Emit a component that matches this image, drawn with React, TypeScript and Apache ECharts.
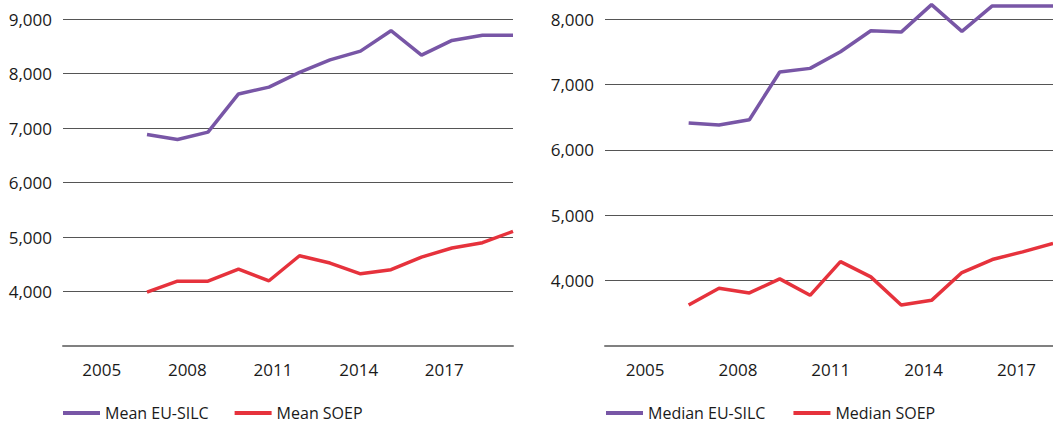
import React, { useEffect, useRef } from "react";
import * as echarts from "echarts";

const years = [2007, 2008, 2009, 2010, 2011, 2012, 2013, 2014, 2015, 2016, 2017, 2018, 2019];
const tickYears = [2005, 2008, 2011, 2014, 2017];

const meanEuSilc = [6880, 6790, 6925, 7625, 7750, 8020, 8250, 8410, 8785, 8338, 8607, 8700, 8700];
const meanSoep = [3990, 4190, 4190, 4410, 4197, 4656, 4522, 4325, 4400, 4632, 4798, 4895, 5103];
const medianEuSilc = [6410, 6380, 6460, 7190, 7245, 7500, 7820, 7800, 8220, 7810, 8200, 8200, 8200];
const medianSoep = [3628, 3882, 3812, 4026, 3775, 4291, 4057, 3628, 3698, 4123, 4322, 4440, 4570];

const PURPLE = "#7856A6";
const RED = "#E6323C";
const FONT = "Open Sans";

const pairs = (vals: number[]) => years.map((y, i) => [y, vals[i]]);
const fmt = (v: number) => (v === 3000 ? "" : String(v).replace(/\B(?=(\d{3})+(?!\d))/g, ","));

export default function App() {
  const ref = useRef<HTMLDivElement>(null);
  useEffect(() => {
    const chart = echarts.init(ref.current!, undefined, { renderer: "svg" });
    const yAxisBase = (grid: number, max: number) => ({
      type: "value",
      gridIndex: grid,
      min: 3000,
      max,
      interval: 1000,
      axisLine: { show: false },
      axisTick: { show: false },
      axisLabel: { formatter: fmt, margin: 11, fontFamily: FONT, fontSize: 17, color: "#1a1a1a" },
      splitLine: { show: true, lineStyle: { color: "#555555", width: 1 } },
    });
    const dataAxis = (grid: number) => ({
      type: "value",
      gridIndex: grid,
      position: "bottom",
      min: 2004.246,
      max: 2019,
      show: false,
    });
    const labelAxis = (grid: number, min: number, max: number) => ({
      type: "value",
      gridIndex: grid,
      position: "bottom",
      min,
      max,
      splitLine: { show: false },
      axisTick: { show: false },
      axisLine: { show: true, onZero: false, lineStyle: { color: "#808080", width: 2 } },
      axisLabel: {
        customValues: tickYears,
        formatter: (v: number) => String(v),
        margin: 15,
        fontFamily: FONT,
        fontSize: 17,
        color: "#1a1a1a",
      },
    });
    const legendBase = {
      top: 404,
      padding: 0,
      icon: "rect",
      itemWidth: 37,
      itemHeight: 4,
      itemGap: 26,
      itemTextGap: 10,
      textStyle: { fontFamily: FONT, fontSize: 16, lineHeight: 18, color: "#1a1a1a" },
      selectedMode: false,
    };
    chart.setOption({
      animation: false,
      grid: [
        { left: 63, top: 19, width: 450, height: 327 },
        { left: 605, top: 19, width: 450, height: 327 },
      ],
      xAxis: [
        dataAxis(0),
        labelAxis(0, 2003.644, 2019.406),
        { ...dataAxis(1), min: 2004.245, max: 2019 },
        labelAxis(1, 2003.704, 2018.18),
      ],
      yAxis: [yAxisBase(0, 9000), yAxisBase(1, 8000)],
      legend: [
        { ...legendBase, left: 63, data: ["Mean EU-SILC", "Mean SOEP"] },
        { ...legendBase, left: 606, itemGap: 28, data: ["Median EU-SILC", "Median SOEP"] },
      ],
      series: [
        { name: "Mean EU-SILC", type: "line", xAxisIndex: 0, yAxisIndex: 0, data: pairs(meanEuSilc), color: PURPLE },
        { name: "Mean SOEP", type: "line", xAxisIndex: 0, yAxisIndex: 0, data: pairs(meanSoep), color: RED },
        { name: "Median EU-SILC", type: "line", xAxisIndex: 2, yAxisIndex: 1, data: pairs(medianEuSilc), color: PURPLE },
        { name: "Median SOEP", type: "line", xAxisIndex: 2, yAxisIndex: 1, data: pairs(medianSoep), color: RED },
      ].map((s) => ({
        ...s,
        showSymbol: false,
        symbol: "none",
        clip: false,
        lineStyle: { width: 3.5, color: s.color },
        itemStyle: { color: s.color },
        z: 3,
      })),
    });
    return () => chart.dispose();
  }, []);
  return (
    <div
      ref={ref}
      style={{ position: "absolute", left: 0, top: 0, width: 1053, height: 426, background: "#fff" }}
    />
  );
}
